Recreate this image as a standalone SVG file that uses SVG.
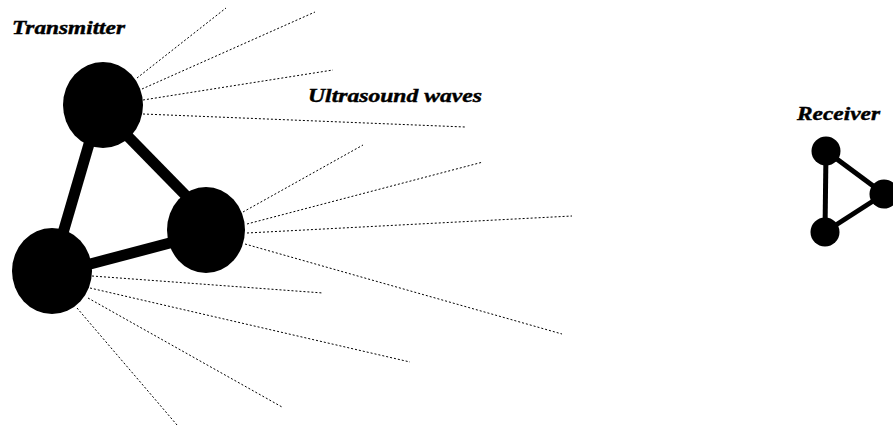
<svg xmlns="http://www.w3.org/2000/svg" width="893" height="428" viewBox="0 0 893 428">
<style>
.lbl{font-family:"Liberation Serif","DejaVu Serif","Times New Roman",serif;font-weight:bold;font-style:italic;fill:#000;stroke:#000;stroke-width:0.4}
.wave{stroke:#000;stroke-width:1;stroke-dasharray:2,2;fill:none}
.bond{stroke:#000;fill:none;stroke-linecap:butt}
.atom{fill:#000}
</style>
<rect width="893" height="428" fill="#fff"/>
<g id="waves">
<line class="wave" x1="137" y1="78" x2="226" y2="8"/>
<line class="wave" x1="142" y1="89" x2="315" y2="12"/>
<line class="wave" x1="143" y1="100" x2="333" y2="70"/>
<line class="wave" x1="143" y1="114" x2="465" y2="127"/>
<line class="wave" x1="243" y1="212" x2="363" y2="145"/>
<line class="wave" x1="247" y1="224" x2="483" y2="162"/>
<line class="wave" x1="247" y1="233" x2="572" y2="216"/>
<line class="wave" x1="245" y1="244" x2="562" y2="334"/>
<line class="wave" x1="92" y1="276" x2="323" y2="293"/>
<line class="wave" x1="90" y1="288" x2="410" y2="362"/>
<line class="wave" x1="88" y1="298" x2="282" y2="407"/>
<line class="wave" x1="77" y1="308" x2="177" y2="425"/>
</g>
<g id="connectors">
<line class="bond" x1="96" y1="120" x2="58" y2="250" stroke-width="11"/>
<line class="bond" x1="107" y1="115" x2="200" y2="210" stroke-width="11"/>
<line class="bond" x1="60" y1="272" x2="200" y2="235" stroke-width="11"/>
<line class="bond" x1="826" y1="151" x2="825" y2="232" stroke-width="5"/>
<line class="bond" x1="826" y1="151" x2="884" y2="194" stroke-width="5"/>
<line class="bond" x1="825" y1="232" x2="884" y2="194" stroke-width="5"/>
</g>
<g id="transmitter-top"><ellipse class="atom" cx="103" cy="105" rx="40" ry="43"/></g>
<g id="transmitter-right"><ellipse class="atom" cx="206" cy="230" rx="39" ry="43"/></g>
<g id="transmitter-left"><ellipse class="atom" cx="52" cy="271" rx="40" ry="43"/></g>
<g id="receiver-top"><circle class="atom" cx="826" cy="151" r="14.5"/></g>
<g id="receiver-right"><circle class="atom" cx="884" cy="194" r="14.5"/></g>
<g id="receiver-bottom"><circle class="atom" cx="825" cy="232" r="14.5"/></g>
<g id="labels">
<text class="lbl" x="12" y="34" font-size="18" textLength="113" lengthAdjust="spacingAndGlyphs">Transmitter</text>
<text class="lbl" x="308" y="102" font-size="18" textLength="174" lengthAdjust="spacingAndGlyphs">Ultrasound waves</text>
<text class="lbl" x="797" y="120" font-size="18" textLength="83" lengthAdjust="spacingAndGlyphs">Receiver</text>
</g>
</svg>
